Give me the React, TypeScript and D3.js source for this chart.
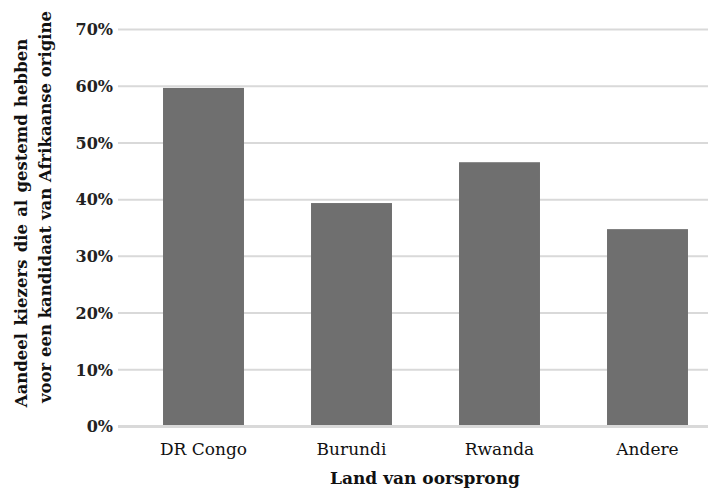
import React from "react";
import * as d3 from "d3";

const categories = ["DR Congo", "Burundi", "Rwanda", "Andere"];
const values = [0.597, 0.394, 0.466, 0.348];
const yTicks = [0, 0.1, 0.2, 0.3, 0.4, 0.5, 0.6, 0.7];
const yTitleLines = ["Aandeel kiezers die al gestemd hebben", "voor een kandidaat van Afrikaanse origine"];
const xTitle = "Land van oorsprong";

export default function App() {
  const W = 708, H = 491;
  const font = "'DejaVu Serif', serif";
  const y = d3.scaleLinear().domain([0, 0.7]).range([426.5, 29.5]);
  const x = d3.scaleBand<string>().domain(categories).range([129.5, 721.5]).paddingInner(0.453).paddingOuter(0.2265);
  const gridX0 = 118, gridX1 = 708;
  const fmt = d3.format(".0%");
  const titlePos = [
    { x: 27, y: 223, ws: 1.5 },
    { x: 51, y: 207, ws: 0 },
  ];
  return (
    <svg width={W} height={H} style={{ position: "absolute", left: 0, top: 0, background: "#fff" }}>
      {yTicks.map((t) => (
        <g key={t}>
          <line x1={gridX0} x2={gridX1} y1={y(t)} y2={y(t)} stroke="#d9d9d9" strokeWidth={t === 0 ? 3 : 2} />
          <text x={113} y={y(t)} dy="0.36em" textAnchor="end" fontFamily={font} fontWeight="bold" fontSize={16} fill="#222">
            {fmt(t)}
          </text>
        </g>
      ))}
      {categories.map((c, i) => (
        <rect key={c} x={x(c)!} width={x.bandwidth()} y={y(values[i])} height={y(0) - 1.5 - y(values[i])} fill="#6f6f6f" />
      ))}
      {categories.map((c) => (
        <text key={c} x={x(c)! + x.bandwidth() / 2} y={455} textAnchor="middle" fontFamily={font} fontSize={17} fill="#111">
          {c}
        </text>
      ))}
      <text x={425} y={484} textAnchor="middle" fontFamily={font} fontWeight="bold" fontSize={17} fill="#111">
        {xTitle}
      </text>
      {yTitleLines.map((l, i) => (
        <text key={i} transform={`translate(${titlePos[i].x},${titlePos[i].y}) rotate(-90)`} textAnchor="middle" fontFamily={font} fontWeight="bold" fontSize={16.5} wordSpacing={titlePos[i].ws} fill="#111">
          {l}
        </text>
      ))}
    </svg>
  );
}
